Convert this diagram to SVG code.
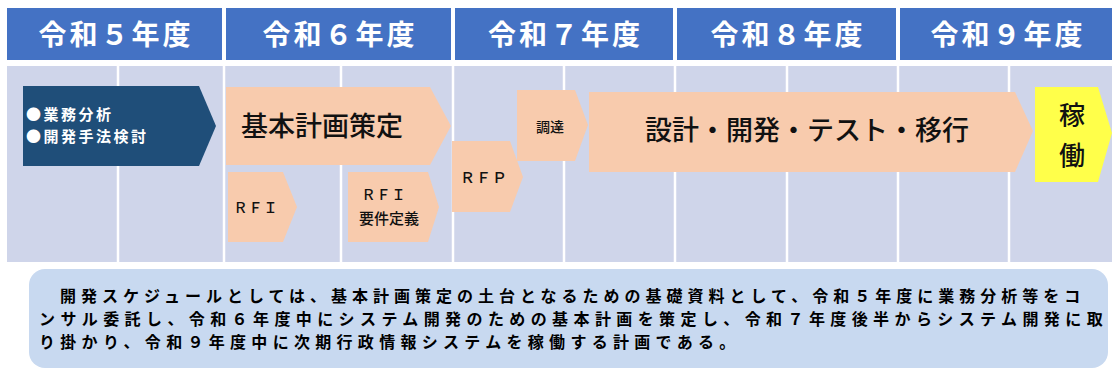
<svg xmlns="http://www.w3.org/2000/svg" width="1112" height="371" viewBox="0 0 1112 371">
<style>
.hdr{fill:#4472C4}
.hdrt{fill:#fff;font-family:"Noto Sans CJK JP","Noto Sans",sans-serif;font-weight:700;font-size:28px;letter-spacing:3px;text-anchor:middle}
.grid{stroke:#fff;stroke-width:2.5}
.peach{fill:#F8CBAD}
.navy{fill:#1F4E79}
.yel{fill:#FFFF4A}
.t{font-family:"Noto Sans CJK JP","Noto Sans",sans-serif;fill:#111}
.mid{text-anchor:middle}
.note{font-family:"Noto Sans CJK JP","Noto Sans",sans-serif;font-weight:700;font-size:16px;fill:#000}
</style>
<rect width="1112" height="371" fill="#fff"/>
<g id="header">
<rect class="hdr" x="7" y="8" width="215" height="52"/>
<rect class="hdr" x="226" y="8" width="225" height="52"/>
<rect class="hdr" x="455" y="8" width="218" height="52"/>
<rect class="hdr" x="677" y="8" width="219" height="52"/>
<rect class="hdr" x="900" y="8" width="212" height="52"/>
<text class="hdrt" x="116" y="45">令和５年度</text>
<text class="hdrt" x="340" y="45">令和６年度</text>
<text class="hdrt" x="565.5" y="45">令和７年度</text>
<text class="hdrt" x="788" y="45">令和８年度</text>
<text class="hdrt" x="1008" y="45">令和９年度</text>
</g>
<g id="body">
<rect x="7" y="66" width="1105" height="196" fill="#CFD5EA"/>
<path class="grid" d="M118 66V262M224 66V262M341 66V262M453 66V262M564 66V262M675 66V262M787 66V262M898 66V262M1009 66V262"/>
</g>
<g id="connectors"/>
<g id="analysis">
<path class="navy" d="M23 86H199L216 126L199 166H23Z"/>
<text class="t" font-size="15" font-weight="700" style="fill:#fff" letter-spacing="2.5"><tspan x="26" y="120">●業務分析</tspan><tspan x="26" y="142">●開発手法検討</tspan></text>
</g>
<g id="basic-plan">
<path class="peach" d="M226 87H430L451 126L430 165H226Z"/>
<text class="t" x="241" y="136" font-size="27" font-weight="500">基本計画策定</text>
</g>
<g id="rfi1">
<path class="peach" d="M228 172H283L297 207L283 242H228Z"/>
<text class="t mid" x="256" y="213" font-size="14" font-weight="500" letter-spacing="1">ＲＦＩ</text>
</g>
<g id="rfi2">
<path class="peach" d="M348 172H428L439 207L428 242H348Z"/>
<text class="t mid" font-size="14" font-weight="500"><tspan x="384" y="200" letter-spacing="1">ＲＦＩ</tspan><tspan x="389" y="224" font-size="15">要件定義</tspan></text>
</g>
<g id="rfp">
<path class="peach" d="M452 141H510L523 177L510 212H452Z"/>
<text class="t mid" x="484" y="183" font-size="15" font-weight="500" letter-spacing="1">ＲＦＰ</text>
</g>
<g id="procure">
<path class="peach" d="M517 90H575L588 125L575 161H517Z"/>
<text class="t mid" x="550" y="132" font-size="14" font-weight="500">調達</text>
</g>
<g id="development">
<path class="peach" d="M589 92H1015L1033 131L1015 172H589Z"/>
<text class="t mid" x="807" y="140" font-size="27" font-weight="500">設計・開発・テスト・移行</text>
</g>
<g id="operation">
<path class="yel" d="M1035 87H1098L1112 133L1098 182H1035Z"/>
<text class="t mid" font-size="26" font-weight="500"><tspan x="1072" y="125">稼</tspan><tspan x="1072" y="165">働</tspan></text>
</g>
<g id="note">
<rect x="29" y="269" width="1079" height="99" rx="16" fill="#C8D9F0"/>
<text class="note"><tspan x="60" y="302" letter-spacing="5.0">開発スケジュールとしては、基本計画策定の土台となるための基礎資料として、令和５年度に業務分析等をコ</tspan><tspan x="39" y="325" letter-spacing="5.4">ンサル委託し、令和６年度中にシステム開発のための基本計画を策定し、令和７年度後半からシステム開発に取</tspan><tspan x="39" y="348" letter-spacing="5.3">り掛かり、令和９年度中に次期行政情報システムを稼働する計画である。</tspan></text>
</g>
</svg>
